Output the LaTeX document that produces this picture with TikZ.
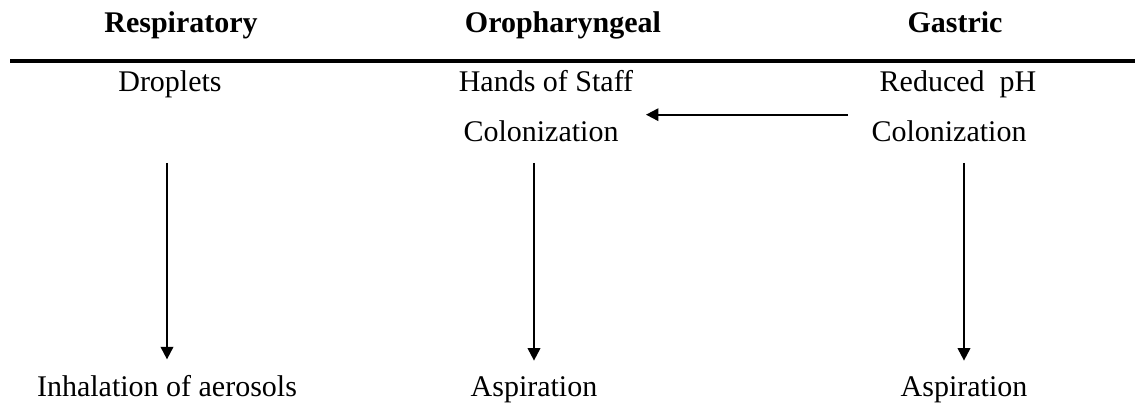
\documentclass[tikz,border=0pt]{standalone}
\usepackage{fontspec}
\setmainfont{Liberation Serif}
\newfontfamily\timesfont{Liberation Serif}
\usetikzlibrary{arrows.meta}

\begin{document}
\begin{tikzpicture}[x=0.4pt, y=-0.4pt, font=\timesfont\fontsize{12}{14}\selectfont,
					lbl/.style={anchor=base, inner sep=0pt},
					head/.style={lbl, font=\timesfont\fontsize{12}{14}\selectfont\bfseries},
					arr/.style={line width=0.8pt, -{Triangle[length=5pt, width=5pt]}},
					rule/.style={line width=1.6pt}]
					\useasboundingbox (0,0) rectangle (1135,406);
					% column heads and rule
					\node[head] (hresp) at (181,33) {Respiratory};
					\node[head] (horo) at (563,33) {Oropharyngeal};
					\node[head] (hgas) at (955,33) {Gastric};
					\draw[rule] (10,61) -- (1135,61);
					% first row
					\node[lbl] (drop) at (170,92) {Droplets};
					\node[lbl] (hand) at (546,92) {Hands of Staff};
					\node[lbl] (redph) at (958,92) {Reduced\ \ pH};
					% second row
					\node[lbl] (ocol) at (541,142) {Colonization};
					\node[lbl] (gcol) at (949,142) {Colonization};
					% last row
					\node[lbl] (inhal) at (167,397) {Inhalation of aerosols};
					\node[lbl] (oasp) at (534,397) {Aspiration};
					\node[lbl] (gasp) at (964,397) {Aspiration};
					% connectors
					\draw[arr] ([shift={(-9.2pt,2.4pt)}]gcol.north west) -- ([shift={(10.8pt,2.4pt)}]ocol.north east);
					\draw[arr, shorten <=8pt, shorten >=6.4pt] (inhal |- ocol.south) -- (inhal.north);
					\draw[arr, shorten <=8pt, shorten >=6.4pt] (oasp |- ocol.south) -- (oasp.north);
					\draw[arr, shorten <=8pt, shorten >=6.4pt] (gasp |- gcol.south) -- (gasp.north);
				\end{tikzpicture}
\end{document}
